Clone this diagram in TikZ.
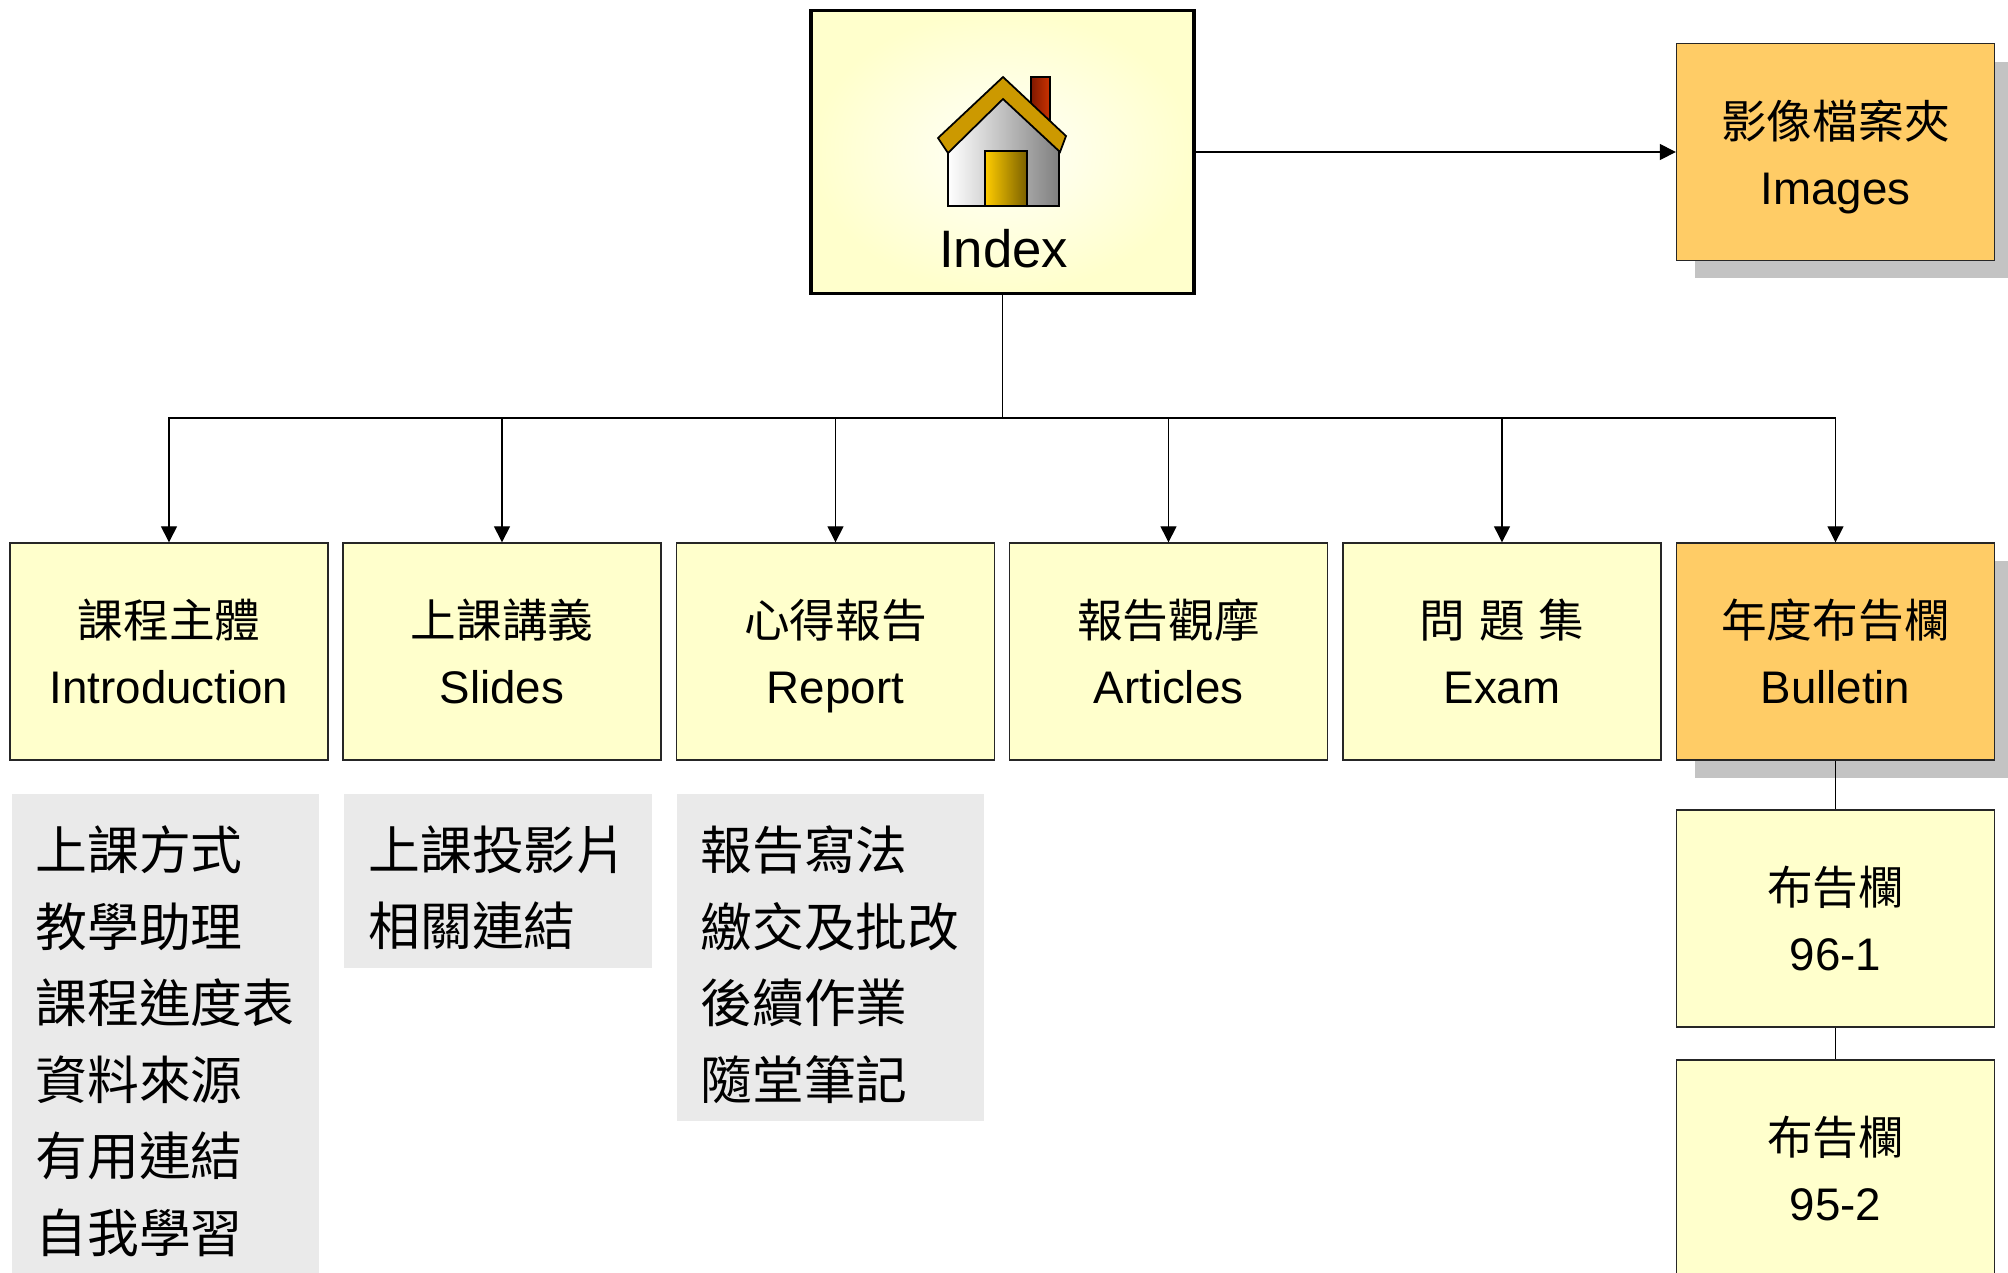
\documentclass[tikz,border=0pt]{standalone}
\usepackage{fontspec}
\setmainfont{Liberation Sans}
\newfontfamily\cjk{Noto Sans CJK TC}
\usepackage{tikz}
\usetikzlibrary{arrows.meta, shadows}
\definecolor{boxyellow}{HTML}{FFFFCC}
\definecolor{boxorange}{HTML}{FFCC66}
\definecolor{listgray}{HTML}{EAEAEA}
\definecolor{shadowgray}{HTML}{C3C3C3}
\definecolor{roofgold}{HTML}{CC9900}
\definecolor{doorgold}{HTML}{FFCC00}
\definecolor{doordark}{HTML}{7A6000}
\definecolor{brickdark}{HTML}{801800}
\definecolor{brick}{HTML}{CC3300}

\begin{document}
\begin{tikzpicture}[x=0.02cm, y=-0.02cm,
    card/.style={draw=black!85, line width=0.8pt, fill=boxyellow, minimum width=6.36cm,
        minimum height=4.34cm, align=center, inner sep=0pt, font=\fontsize{26}{37.5}\selectfont},
    hot/.style={fill=boxorange, drop shadow={shadow xshift=0.36cm, shadow yshift=-0.36cm,
        fill=shadowgray, opacity=1}},
    list/.style={anchor=base west, align=left, inner sep=0pt, font=\cjk\fontsize{29.5}{43.5}\selectfont},
    conn/.style={line width=0.7pt},
    arrow/.style={conn, -{Triangle[width=0.32cm, length=0.32cm]}}]
    \useasboundingbox (0,0) rectangle (2008,1272);
    % Home page
    \node[draw, line width=1.9pt, inner color=boxyellow!10!white, outer color=boxyellow,
        minimum width=7.66cm, minimum height=5.66cm] (index) at (1002.5,152) {};
    \draw[line width=1pt, left color=brickdark, right color=brick] (1031,77) rectangle (1050,128);
    \draw[line width=1pt, left color=white, right color=black!50]
        (948,206) -- (948,150) -- (1003,96) -- (1059,150) -- (1059,206) -- cycle;
    \draw[line width=1pt, left color=doorgold, right color=doordark] (985,151) rectangle (1027,206);
    \draw[line width=1pt, fill=roofgold]
        (938,138) -- (1003,77) -- (1066,136) -- (1060,152) -- (1003,99) -- (948,153) -- cycle;
    \node[font=\fontsize{30}{36}\selectfont] (indexlabel) at (1003.5,249) {Index};
    % Sections
    \node[card, hot] (images) at (1835.5,152) {{\cjk 影像檔案夾}\\\raisebox{0pt}[\height][0pt]{Images}};
    \node[card] (intro) at (169,651.5) {{\cjk 課程主體}\\Introduction};
    \node[card] (slides) at (502,651.5) {{\cjk 上課講義}\\Slides};
    \node[card] (report) at (835.5,651.5) {{\cjk 心得報告}\\\raisebox{0pt}[\height][0pt]{Report}};
    \node[card] (articles) at (1168.5,651.5) {{\cjk 報告觀摩}\\Articles};
    \node[card] (exam) at (1502,651.5) {{\cjk 問\hspace{0.3em}題\hspace{0.3em}集}\\Exam};
    \node[card, hot] (bulletin) at (1835.5,651.5) {{\cjk 年度布告欄}\\Bulletin};
    \node[card] (b961) at (1835.5,918.5) {{\cjk 布告欄}\\96-1};
    \node[card] (b952) at (1835.5,1168.5) {{\cjk 布告欄}\\95-2};
    % Page lists (anchored at the last line)
    \fill[listgray] (12,794) rectangle (319,1280);
    \fill[listgray] (344,794) rectangle (652,968);
    \fill[listgray] (677,794) rectangle (984,1121);
    \node[list] (introlist) at (35,1252) {上課方式\\教學助理\\課程進度表\\資料來源\\有用連結\\自我學習};
    \node[list] (slideslist) at (368,945.5) {上課投影片\\相關連結};
    \node[list] (reportlist) at (700,1099) {報告寫法\\繳交及批改\\後續作業\\隨堂筆記};
    % Links
    \coordinate (bus) at (index.south |- 0,418);
    \draw[arrow] (index.east) -- (images.west);
    \draw[conn] (index.south) -- (bus);
    \draw[arrow] (bus) -| (intro.north);
    \draw[arrow] (bus) -| (slides.north);
    \draw[arrow] (bus) -| (report.north);
    \draw[arrow] (bus) -| (articles.north);
    \draw[arrow] (bus) -| (exam.north);
    \draw[arrow] (bus) -| (bulletin.north);
    \draw[conn] (bulletin.south) -- (b961.north);
    \draw[conn] (b961.south) -- (b952.north);
\end{tikzpicture}
\end{document}
